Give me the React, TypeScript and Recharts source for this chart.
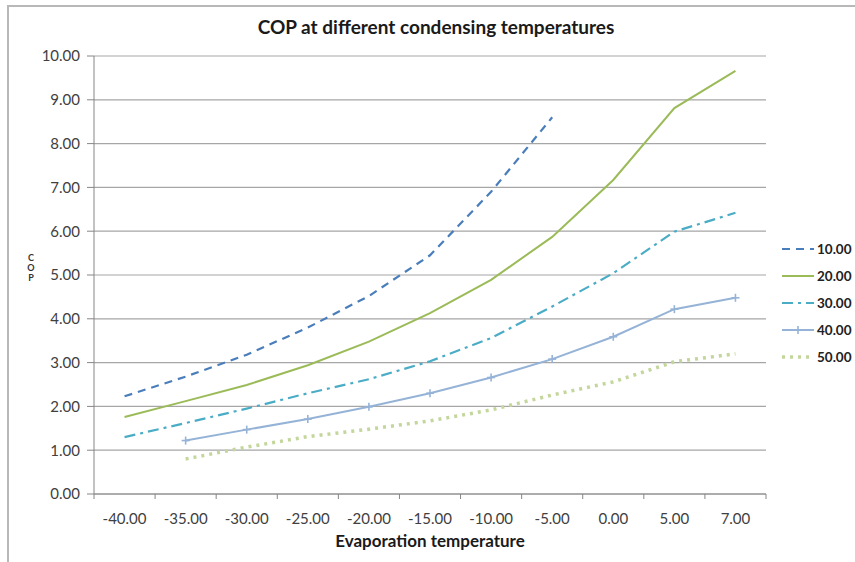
import React from 'react';
import { LineChart, Line, XAxis, YAxis, CartesianGrid, Legend, Label } from 'recharts';

const temps = [-40, -35, -30, -25, -20, -15, -10, -5, 0, 5, 7];
const cop10 = [2.23, 2.68, 3.18, 3.8, 4.52, 5.45, 6.9, 8.6, null, null, null];
const cop20 = [1.76, 2.12, 2.49, 2.94, 3.48, 4.13, 4.89, 5.87, 7.17, 8.81, 9.66];
const cop30 = [1.3, 1.62, 1.95, 2.3, 2.62, 3.03, 3.56, 4.28, 5.04, 5.99, 6.42];
const cop40 = [null, 1.22, 1.47, 1.71, 1.99, 2.3, 2.66, 3.08, 3.59, 4.22, 4.48];
const cop50 = [null, 0.8, 1.07, 1.31, 1.48, 1.67, 1.92, 2.26, 2.56, 3.02, 3.2];
const yTicks = [0, 1, 2, 3, 4, 5, 6, 7, 8, 9, 10];

const data = temps.map((t, i) => ({
  t,
  c10: cop10[i],
  c20: cop20[i],
  c30: cop30[i],
  c40: cop40[i],
  c50: cop50[i],
}));

const FONT = 'Lato, "Open Sans", sans-serif';
const AXIS = '#868686';
const TXT = '#404040';

const series = [
  { key: 'c10', name: '10.00', color: '#4A7EBB', dash: '8 6', width: 2.2, marker: false },
  { key: 'c20', name: '20.00', color: '#9BBB59', dash: undefined, width: 2, marker: false },
  { key: 'c30', name: '30.00', color: '#4BACC6', dash: '11 5 3 5', width: 2.2, marker: false },
  { key: 'c40', name: '40.00', color: '#95B3D7', dash: undefined, width: 2, marker: true },
  { key: 'c50', name: '50.00', color: '#C3D69B', dash: '3 5', width: 3.5, marker: false },
];

const Cross = ({ cx, cy, color }: any) => {
  if (cx == null || cy == null) return null;
  return (
    <g stroke={color} strokeWidth={1.6}>
      <line x1={cx - 4} x2={cx + 4} y1={cy} y2={cy} />
      <line x1={cx} x2={cx} y1={cy - 4} y2={cy + 4} />
    </g>
  );
};

const XTick = (props: any) => {
  const { x, y, payload, index } = props;
  const half = payload && payload.offset ? payload.offset : 30.5;
  return (
    <g>
      <line x1={x - half} x2={x - half} y1={y} y2={y + 5} stroke={AXIS} />
      {index === temps.length - 1 && <line x1={x + half} x2={x + half} y1={y} y2={y + 5} stroke={AXIS} />}
      <text x={x} y={y + 30} textAnchor="middle" fill={TXT} fontSize={15} fontFamily={FONT}>
        {Number(payload.value).toFixed(2)}
      </text>
    </g>
  );
};

const LegendBox = () => (
  <div style={{ fontFamily: FONT }}>
    {series.map((s) => (
      <div key={s.key} style={{ height: 27, display: 'flex', alignItems: 'center' }}>
        <svg width={36} height={12} style={{ marginLeft: 10 }}>
          <line
            x1={2}
            x2={34}
            y1={6}
            y2={6}
            stroke={s.color}
            strokeWidth={s.width}
            strokeDasharray={s.dash}
          />
          {s.marker && <Cross cx={18} cy={6} color={s.color} />}
        </svg>
        <span style={{ fontSize: 13.5, fontWeight: 700, color: '#222', marginLeft: 1 }}>{s.name}</span>
      </div>
    ))}
  </div>
);

export default function App() {
  return (
    <div style={{ position: 'absolute', left: 0, top: 0, width: 855, height: 562, background: '#fff', overflow: 'hidden' }}>
      <div
        style={{
          position: 'absolute',
          left: 7,
          top: 5,
          width: 900,
          height: 600,
          borderTop: '2px solid #b8b8b8',
          borderLeft: '2px solid #b8b8b8',
        }}
      />
      <div
        style={{
          position: 'absolute',
          left: 0,
          top: 15,
          width: 872,
          textAlign: 'center',
          fontFamily: FONT,
          fontWeight: 700,
          fontSize: 19,
          color: '#1a1a1a',
        }}
      >
        COP at different condensing temperatures
      </div>
      <LineChart width={855} height={562} data={data} margin={{ top: 56, right: 4, bottom: 0, left: 40 }}>
        <CartesianGrid vertical={false} stroke="#a6a6a6" strokeWidth={1.2} />
        <XAxis
          dataKey="t"
          type="category"
          scale="band"
          height={68}
          stroke={AXIS}
          tickLine={false}
          tickSize={0}
          tickMargin={0}
          interval={0}
          tick={<XTick />}
        >
          <Label
            content={(p: any) => (
              <text
                x={p.viewBox.x + p.viewBox.width / 2}
                y={547}
                textAnchor="middle"
                fontFamily={FONT}
                fontWeight={700}
                fontSize={17}
                fill="#1a1a1a"
              >
                Evaporation temperature
              </text>
            )}
          />
        </XAxis>
        <YAxis
          width={54}
          domain={[0, 10]}
          ticks={yTicks}
          stroke={AXIS}
          tickSize={7}
          tickMargin={7}
          tickFormatter={(v: number) => v.toFixed(2)}
          tick={{ fill: TXT, fontSize: 15, fontFamily: FONT }}
        >
          <Label
            content={() => (
              <text x={31} textAnchor="middle" fontFamily={FONT} fontWeight={700} fontSize={9} fill="#333">
                <tspan x={31} y={261}>C</tspan>
                <tspan x={31} y={271}>O</tspan>
                <tspan x={31} y={281}>P</tspan>
              </text>
            )}
          />
        </YAxis>
        <Legend
          layout="vertical"
          align="right"
          verticalAlign="middle"
          content={<LegendBox />}
          wrapperStyle={{ left: 770, top: 235, width: 85, height: 135 }}
        />
        {series.map((s) => (
          <Line
            key={s.key}
            dataKey={s.key}
            name={s.name}
            type="linear"
            stroke={s.color}
            strokeWidth={s.width}
            strokeDasharray={s.dash}
            dot={s.marker ? (p: any) => <Cross key={p.index} cx={p.cx} cy={p.cy} color={s.color} /> : false}
            activeDot={false}
            connectNulls={false}
            isAnimationActive={false}
          />
        ))}
      </LineChart>
    </div>
  );
}
